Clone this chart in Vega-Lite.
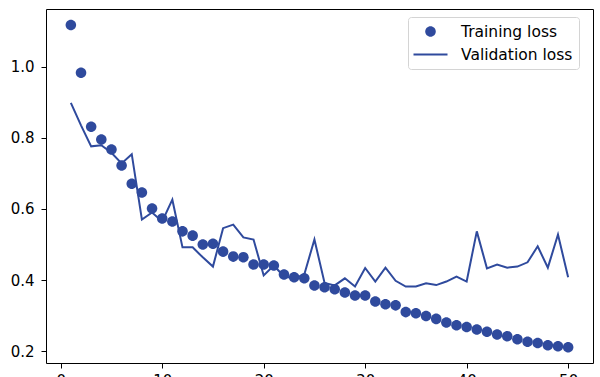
{
  "$schema": "https://vega.github.io/schema/vega-lite/v6.json",
  "width": 547,
  "height": 354,
  "autosize": {"type": "none"},
  "padding": {"left": 46, "top": 9, "right": 7, "bottom": 14},
  "background": "white",
  "config": {
    "font": "DejaVu Sans",
    "view": {"stroke": "#000000", "strokeWidth": 1},
    "axis": {"domain": false, "grid": false, "tickColor": "#000000", "tickSize": 5, "tickWidth": 1, "labelColor": "#000000", "labelFontSize": 15, "labelFont": "DejaVu Sans", "title": null},
    "legend": {
      "orient": "none", "legendX": 362, "legendY": 8, "padding": 6,
      "strokeColor": "#d4d4d4", "fillColor": "white", "cornerRadius": 3,
      "labelFontSize": 15.5, "labelFont": "DejaVu Sans", "labelColor": "#000000",
      "symbolSize": 289, "symbolStrokeWidth": 0, "symbolFillColor": "#2f4a9d", "symbolOpacity": 1,
      "symbolOffset": 8, "labelOffset": 22, "rowPadding": 6, "title": null
    }
  },
  "data": {
    "values": [
      {"epoch": 1, "series": "Training loss", "loss": 1.117},
      {"epoch": 2, "series": "Training loss", "loss": 0.983},
      {"epoch": 3, "series": "Training loss", "loss": 0.831},
      {"epoch": 4, "series": "Training loss", "loss": 0.795},
      {"epoch": 5, "series": "Training loss", "loss": 0.767},
      {"epoch": 6, "series": "Training loss", "loss": 0.722},
      {"epoch": 7, "series": "Training loss", "loss": 0.671},
      {"epoch": 8, "series": "Training loss", "loss": 0.646},
      {"epoch": 9, "series": "Training loss", "loss": 0.601},
      {"epoch": 10, "series": "Training loss", "loss": 0.573},
      {"epoch": 11, "series": "Training loss", "loss": 0.565},
      {"epoch": 12, "series": "Training loss", "loss": 0.537},
      {"epoch": 13, "series": "Training loss", "loss": 0.525},
      {"epoch": 14, "series": "Training loss", "loss": 0.500},
      {"epoch": 15, "series": "Training loss", "loss": 0.502},
      {"epoch": 16, "series": "Training loss", "loss": 0.480},
      {"epoch": 17, "series": "Training loss", "loss": 0.466},
      {"epoch": 18, "series": "Training loss", "loss": 0.464},
      {"epoch": 19, "series": "Training loss", "loss": 0.444},
      {"epoch": 20, "series": "Training loss", "loss": 0.444},
      {"epoch": 21, "series": "Training loss", "loss": 0.441},
      {"epoch": 22, "series": "Training loss", "loss": 0.416},
      {"epoch": 23, "series": "Training loss", "loss": 0.408},
      {"epoch": 24, "series": "Training loss", "loss": 0.405},
      {"epoch": 25, "series": "Training loss", "loss": 0.385},
      {"epoch": 26, "series": "Training loss", "loss": 0.380},
      {"epoch": 27, "series": "Training loss", "loss": 0.374},
      {"epoch": 28, "series": "Training loss", "loss": 0.365},
      {"epoch": 29, "series": "Training loss", "loss": 0.357},
      {"epoch": 30, "series": "Training loss", "loss": 0.357},
      {"epoch": 31, "series": "Training loss", "loss": 0.340},
      {"epoch": 32, "series": "Training loss", "loss": 0.332},
      {"epoch": 33, "series": "Training loss", "loss": 0.329},
      {"epoch": 34, "series": "Training loss", "loss": 0.310},
      {"epoch": 35, "series": "Training loss", "loss": 0.307},
      {"epoch": 36, "series": "Training loss", "loss": 0.299},
      {"epoch": 37, "series": "Training loss", "loss": 0.291},
      {"epoch": 38, "series": "Training loss", "loss": 0.281},
      {"epoch": 39, "series": "Training loss", "loss": 0.273},
      {"epoch": 40, "series": "Training loss", "loss": 0.268},
      {"epoch": 41, "series": "Training loss", "loss": 0.261},
      {"epoch": 42, "series": "Training loss", "loss": 0.255},
      {"epoch": 43, "series": "Training loss", "loss": 0.247},
      {"epoch": 44, "series": "Training loss", "loss": 0.242},
      {"epoch": 45, "series": "Training loss", "loss": 0.234},
      {"epoch": 46, "series": "Training loss", "loss": 0.227},
      {"epoch": 47, "series": "Training loss", "loss": 0.223},
      {"epoch": 48, "series": "Training loss", "loss": 0.217},
      {"epoch": 49, "series": "Training loss", "loss": 0.214},
      {"epoch": 50, "series": "Training loss", "loss": 0.211},
      {"epoch": 1, "series": "Validation loss", "loss": 0.898},
      {"epoch": 2, "series": "Validation loss", "loss": 0.835},
      {"epoch": 3, "series": "Validation loss", "loss": 0.776},
      {"epoch": 4, "series": "Validation loss", "loss": 0.779},
      {"epoch": 5, "series": "Validation loss", "loss": 0.758},
      {"epoch": 6, "series": "Validation loss", "loss": 0.728},
      {"epoch": 7, "series": "Validation loss", "loss": 0.754},
      {"epoch": 8, "series": "Validation loss", "loss": 0.570},
      {"epoch": 9, "series": "Validation loss", "loss": 0.590},
      {"epoch": 10, "series": "Validation loss", "loss": 0.565},
      {"epoch": 11, "series": "Validation loss", "loss": 0.626},
      {"epoch": 12, "series": "Validation loss", "loss": 0.492},
      {"epoch": 13, "series": "Validation loss", "loss": 0.492},
      {"epoch": 14, "series": "Validation loss", "loss": 0.464},
      {"epoch": 15, "series": "Validation loss", "loss": 0.438},
      {"epoch": 16, "series": "Validation loss", "loss": 0.546},
      {"epoch": 17, "series": "Validation loss", "loss": 0.556},
      {"epoch": 18, "series": "Validation loss", "loss": 0.520},
      {"epoch": 19, "series": "Validation loss", "loss": 0.514},
      {"epoch": 20, "series": "Validation loss", "loss": 0.413},
      {"epoch": 21, "series": "Validation loss", "loss": 0.441},
      {"epoch": 22, "series": "Validation loss", "loss": 0.410},
      {"epoch": 23, "series": "Validation loss", "loss": 0.405},
      {"epoch": 24, "series": "Validation loss", "loss": 0.416},
      {"epoch": 25, "series": "Validation loss", "loss": 0.514},
      {"epoch": 26, "series": "Validation loss", "loss": 0.392},
      {"epoch": 27, "series": "Validation loss", "loss": 0.385},
      {"epoch": 28, "series": "Validation loss", "loss": 0.405},
      {"epoch": 29, "series": "Validation loss", "loss": 0.382},
      {"epoch": 30, "series": "Validation loss", "loss": 0.434},
      {"epoch": 31, "series": "Validation loss", "loss": 0.396},
      {"epoch": 32, "series": "Validation loss", "loss": 0.435},
      {"epoch": 33, "series": "Validation loss", "loss": 0.398},
      {"epoch": 34, "series": "Validation loss", "loss": 0.382},
      {"epoch": 35, "series": "Validation loss", "loss": 0.382},
      {"epoch": 36, "series": "Validation loss", "loss": 0.391},
      {"epoch": 37, "series": "Validation loss", "loss": 0.386},
      {"epoch": 38, "series": "Validation loss", "loss": 0.396},
      {"epoch": 39, "series": "Validation loss", "loss": 0.410},
      {"epoch": 40, "series": "Validation loss", "loss": 0.396},
      {"epoch": 41, "series": "Validation loss", "loss": 0.537},
      {"epoch": 42, "series": "Validation loss", "loss": 0.433},
      {"epoch": 43, "series": "Validation loss", "loss": 0.444},
      {"epoch": 44, "series": "Validation loss", "loss": 0.435},
      {"epoch": 45, "series": "Validation loss", "loss": 0.438},
      {"epoch": 46, "series": "Validation loss", "loss": 0.450},
      {"epoch": 47, "series": "Validation loss", "loss": 0.495},
      {"epoch": 48, "series": "Validation loss", "loss": 0.435},
      {"epoch": 49, "series": "Validation loss", "loss": 0.528},
      {"epoch": 50, "series": "Validation loss", "loss": 0.408}
    ]
  },
  "encoding": {
    "x": {"field": "epoch", "type": "quantitative", "scale": {"domain": [-1.45, 52.45], "nice": false, "zero": false}, "axis": {"values": [0, 10, 20, 30, 40, 50], "labelPadding": 5}},
    "y": {"field": "loss", "type": "quantitative", "scale": {"domain": [0.167, 1.162], "nice": false, "zero": false}, "axis": {"values": [0.2, 0.4, 0.6, 0.8, 1.0], "format": ".1f", "labelPadding": 7}}
  },
  "layer": [
    {
      "transform": [{"filter": "datum.series === 'Validation loss'"}],
      "mark": {"type": "line", "color": "#2f4a9d", "strokeWidth": 2},
      "encoding": {}
    },
    {
      "transform": [{"filter": "datum.series === 'Training loss'"}],
      "mark": {"type": "point", "filled": true, "opacity": 1, "color": "#2f4a9d", "size": 289},
      "encoding": {
        "shape": {
          "field": "series", "type": "nominal",
          "scale": {"domain": ["Training loss", "Validation loss"], "range": ["M-0.62,0A0.62,0.62 0 1,0 0.62,0A0.62,0.62 0 1,0 -0.62,0Z", "M-2,-0.12L2,-0.12L2,0.12L-2,0.12Z"]},
          "legend": {"symbolSize": 289}
        }
      }
    }
  ]
}
